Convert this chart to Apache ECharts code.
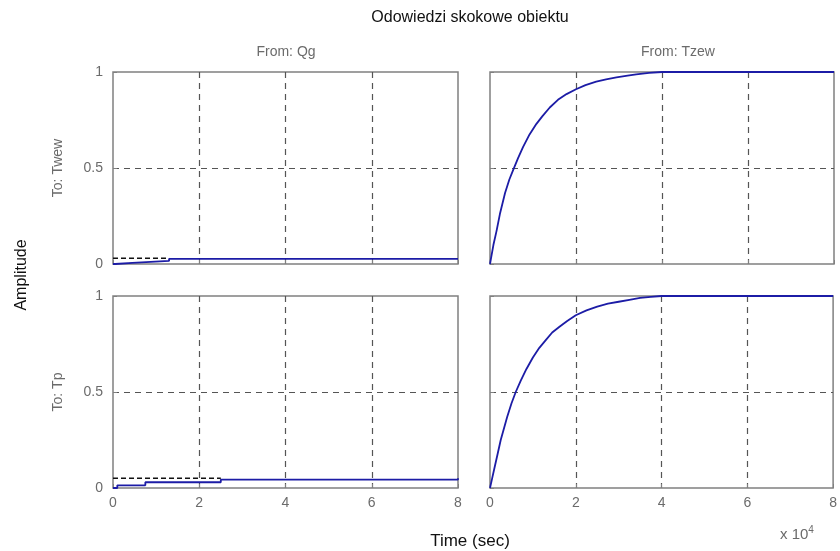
<!DOCTYPE html>
<html>
<head>
<meta charset="utf-8">
<script src="https://cdn.jsdelivr.net/npm/echarts@6/dist/echarts.min.js"></script>
<style>
  html, body { margin: 0; padding: 0; background: #fff; }
  #chart { width: 840px; height: 551px; }
</style>
</head>
<body>
<div id="chart"></div>
<script>
// time axis in units of 1e4 s
const xTicks = [0, 2, 4, 6, 8]
const yTicks = [0, 0.5, 1]

// From: Tzew -> To: Twew
const tTzewTw = [0, 0.04, 0.08, 0.15, 0.23, 0.35, 0.45, 0.54, 0.65, 0.77, 0.92, 1.08, 1.22, 1.39, 1.58, 1.78, 2.0, 2.22, 2.47, 2.7, 2.94, 3.2, 3.4, 3.7, 4.0, 8]
const yTzewTw = [0, 0.05, 0.1, 0.17, 0.26, 0.37, 0.44, 0.49, 0.55, 0.61, 0.675, 0.73, 0.77, 0.815, 0.855, 0.885, 0.91, 0.932, 0.95, 0.962, 0.972, 0.981, 0.988, 0.995, 1.0, 1.0]
// From: Tzew -> To: Tp
const tTzewTp = [0, 0.05, 0.1, 0.18, 0.25, 0.4, 0.5, 0.6, 0.72, 0.85, 1.0, 1.15, 1.3, 1.45, 1.62, 1.8, 2.0, 2.25, 2.5, 2.75, 3.0, 3.25, 3.5, 3.75, 4.0, 8]
const yTzewTp = [0, 0.05, 0.1, 0.18, 0.25, 0.37, 0.44, 0.5, 0.56, 0.62, 0.68, 0.73, 0.77, 0.81, 0.84, 0.87, 0.9, 0.925, 0.945, 0.96, 0.97, 0.98, 0.99, 0.995, 1.0, 1.0]
// From: Qg -> To: Twew
const tQgTw = [0, 0.05, 0.45, 1.3, 8]
const yQgTw = [0, 0.006, 0.016, 0.027, 0.027]
const refQgTw = [[0, 0.03], [1.3, 0.03]]
// From: Qg -> To: Tp
const tQgTp = [0, 0.1, 0.75, 2.5, 8]
const yQgTp = [0, 0.014, 0.03, 0.044, 0.051]
const refQgTp = [[0, 0.051], [2.5, 0.051]]

const BLUE = '#1c1ca6'
const FRAME = '#808080'
const LABEL = '#6b6b6b'
const FONT = 'Liberation Sans'

const grids = [
  { left: 113, top: 72, width: 345, height: 192 },
  { left: 490, top: 72, width: 344, height: 192 },
  { left: 113, top: 296, width: 345, height: 192 },
  { left: 490, top: 296, width: 344, height: 192 },
].map((g) => ({ ...g, show: true, borderColor: FRAME, borderWidth: 1.5, backgroundColor: '#fff', z: 0 }))

const pairs = (xs, ys) => xs.map((x, i) => [x, ys[i]])

const gridLine = { show: true, showMinLine: false, showMaxLine: false, lineStyle: { color: '#555', type: [6, 5], width: 1.2 } }

function xAxis(i) {
  const bottom = i >= 2
  return {
    type: 'value', gridIndex: i, min: xTicks[0], max: xTicks[xTicks.length - 1], interval: 2,
    axisLine: { show: false },
    axisTick: { show: true, inside: true, length: 4, lineStyle: { color: FRAME } },
    axisLabel: { show: bottom, color: LABEL, fontSize: 14, fontFamily: FONT, margin: 8 },
    splitLine: gridLine,
  }
}

function yAxis(i) {
  const left = i % 2 === 0
  return {
    type: 'value', gridIndex: i, min: yTicks[0], max: yTicks[yTicks.length - 1], interval: 0.5,
    name: left ? (i === 0 ? 'To: Twew' : 'To: Tp') : '',
    nameLocation: 'middle', nameRotate: 90, nameGap: 48,
    nameTextStyle: { color: LABEL, fontSize: 14, fontFamily: FONT },
    axisLine: { show: false },
    axisTick: { show: true, inside: true, length: 4, lineStyle: { color: FRAME } },
    axisLabel: { show: left, color: LABEL, fontSize: 14, fontFamily: FONT, margin: 10 },
    splitLine: gridLine,
  }
}

function line(idx, data, step) {
  return {
    type: 'line', xAxisIndex: idx, yAxisIndex: idx, data, step: step ? 'end' : false,
    showSymbol: false, silent: true, animation: false,
    lineStyle: { color: BLUE, width: 1.8 },
  }
}

function refLine(idx, data) {
  return {
    type: 'line', xAxisIndex: idx, yAxisIndex: idx, data, showSymbol: false, silent: true,
    animation: false, lineStyle: { color: '#111', width: 1.5, type: [5, 3] }, z: 3,
  }
}

const chart = echarts.init(document.getElementById('chart'))
chart.setOption({
  animation: false,
  grid: grids,
  xAxis: [0, 1, 2, 3].map(xAxis),
  yAxis: [0, 1, 2, 3].map(yAxis),
  series: [
    line(0, pairs(tQgTw, yQgTw), true),
    refLine(0, refQgTw),
    line(1, pairs(tTzewTw, yTzewTw), false),
    line(2, pairs(tQgTp, yQgTp), true),
    refLine(2, refQgTp),
    line(3, pairs(tTzewTp, yTzewTp), false),
  ],
  graphic: [
    { type: 'text', x: 470, y: 18, style: { text: 'Odowiedzi skokowe obiektu', fontSize: 16, fontFamily: FONT, fill: '#111', align: 'center', verticalAlign: 'middle' } },
    { type: 'text', x: 286, y: 52, style: { text: 'From: Qg', fontSize: 14, fontFamily: FONT, fill: LABEL, align: 'center', verticalAlign: 'middle' } },
    { type: 'text', x: 678, y: 52, style: { text: 'From: Tzew', fontSize: 14, fontFamily: FONT, fill: LABEL, align: 'center', verticalAlign: 'middle' } },
    { type: 'text', x: 22, y: 275, rotation: Math.PI / 2, style: { text: 'Amplitude', fontSize: 16, fontFamily: FONT, fill: '#111', align: 'center', verticalAlign: 'middle' } },
    { type: 'text', x: 470, y: 541, style: { text: 'Time (sec)', fontSize: 17, fontFamily: FONT, fill: '#111', align: 'center', verticalAlign: 'middle' } },
    { type: 'text', x: 780, y: 525, style: { text: 'x 10{s|4}', fontSize: 15, fontFamily: FONT, fill: LABEL, rich: { s: { fontSize: 10, verticalAlign: 'top', padding: [0, 0, 10, 0], fill: LABEL } } } },
  ],
})
</script>
</body>
</html>
